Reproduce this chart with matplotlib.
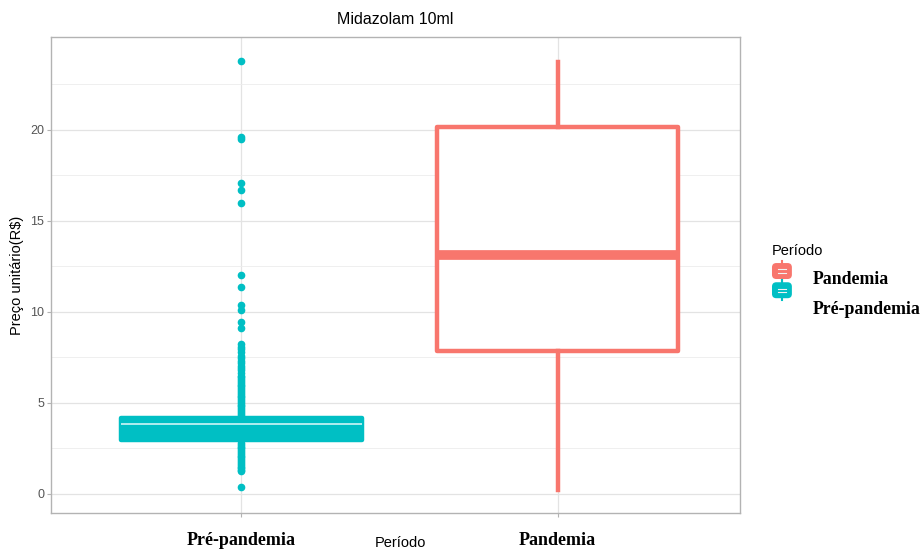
import matplotlib
matplotlib.use("Agg")
import matplotlib.pyplot as plt
from matplotlib.legend_handler import HandlerBase
from matplotlib.patches import FancyBboxPatch
from matplotlib.lines import Line2D

SANS = "Liberation Sans"
SERIF = "Liberation Serif"

categories = ["Pré-pandemia", "Pandemia"]
colors = ["#00BFC4", "#F8766D"]

# box stats
q1 = [2.95, 7.85]
medians = [3.85, 13.1]
q3 = [4.15, 20.15]
whis_lo = [2.0, 0.2]
whis_hi = [5.6, 23.7]

pre_outliers = [23.75, 19.6, 19.5, 17.05, 16.7, 16.0, 12.0, 11.35, 10.4, 10.1,
                9.45, 9.1, 8.25, 8.05, 7.95, 7.8, 7.6, 7.45, 7.3, 7.2, 7.05,
                6.9, 6.8, 6.65, 6.5, 6.4, 6.3, 6.2, 6.1, 6.0, 5.9, 5.8, 5.7,
                5.6, 5.5, 5.4, 5.3, 5.2, 5.1, 5.0, 4.9, 4.8, 4.7, 4.6, 4.5,
                4.4, 4.3, 2.8, 2.7, 2.6, 2.5, 2.4, 2.3, 2.2, 2.1, 2.0, 1.9,
                1.8, 1.7, 1.6, 1.5, 1.4, 1.3, 1.25, 0.4]
pan_outliers = []

yticks = [0, 5, 10, 15, 20]


class BoxKey(HandlerBase):
    # legend key shaped like a small filled boxplot; dy moves it (points)
    def __init__(self, color, dy=0.0):
        super().__init__()
        self.color = color
        self.dy = dy

    def create_artists(self, legend, orig, xd, yd, w, h, fontsize, trans):
        y0 = yd + self.dy
        cx = xd + w / 2
        box = FancyBboxPatch((xd + 0.8, y0 + 1.0), w - 1.6, h - 2.0,
                             boxstyle="round,pad=0,rounding_size=2.5",
                             fc=self.color, ec=self.color, lw=1.2,
                             transform=trans)
        lines = []
        for f in (0.4, 0.6):
            lines.append(Line2D([xd + 4.5, xd + w - 4.5],
                                [y0 + h * f, y0 + h * f],
                                color="#f2f2f2", lw=0.8, transform=trans))
        wh = Line2D([cx, cx], [y0 - 1, y0 + h + 1], color=self.color,
                    lw=1.5, transform=trans)
        return [wh, box] + lines


fig = plt.figure(figsize=(9.22, 5.51), dpi=100)
ax = fig.add_axes([0.0553, 0.069, 0.747, 0.864])

stats = []
for i, name in enumerate(categories):
    stats.append({
        "label": name,
        "q1": q1[i], "med": medians[i], "q3": q3[i],
        "whislo": whis_lo[i], "whishi": whis_hi[i],
        "fliers": pre_outliers if i == 0 else pan_outliers,
    })

# pre-pandemia box is drawn solid, pandemia hollow
pos = [1, 2]
for i in range(2):
    c = colors[i]
    filled = i == 0
    ax.bxp([stats[i]], positions=[pos[i]], widths=0.76, patch_artist=True,
           showcaps=False, manage_ticks=False,
           boxprops=dict(facecolor=c if filled else "white", edgecolor=c,
                         linewidth=3.2, joinstyle="round"),
           medianprops=dict(color="#bff0f2" if filled else c,
                            linewidth=1.3 if filled else 7.0,
                            solid_capstyle="butt"),
           whiskerprops=dict(color=c, linewidth=3.2),
           flierprops=dict(marker="o", markerfacecolor=c, markeredgecolor=c,
                           markersize=4.5, linestyle="none"),
           zorder=3)

ax.set_xlim(0.398, 2.576)
ax.set_ylim(-1.05, 25.1)
ax.set_xticks(pos)
ax.set_xticklabels(categories, fontfamily=SERIF, fontweight="bold",
                   fontsize=13, color="black")
ax.set_yticks(yticks)
ax.set_yticks([2.5, 7.5, 12.5, 17.5, 22.5], minor=True)
ax.tick_params(axis="y", which="major", labelsize=9, labelcolor="#555555",
               color="#b3b3b3", length=3, pad=2)
ax.tick_params(axis="y", which="minor", length=0)
ax.tick_params(axis="x", length=3, color="#b3b3b3", pad=11)
for lab in ax.get_yticklabels():
    lab.set_fontfamily(SANS)

ax.grid(True, which="major", color="#e3e3e3", linewidth=0.9, zorder=0)
ax.grid(True, which="minor", axis="y", color="#ececec", linewidth=0.6, zorder=0)
ax.set_axisbelow(True)
for sp in ax.spines.values():
    sp.set_color("#b3b3b3")
    sp.set_linewidth(1.0)

ax.set_title("Midazolam 10ml", fontfamily=SANS, fontsize=11.5, pad=9)
ax.set_ylabel("Preço unitário(R$)", fontfamily=SANS, fontsize=10.5, labelpad=4)
fig.text(0.434, 0.002, "Período", fontfamily=SANS, fontsize=10.5,
         ha="center", va="bottom")

h1 = Line2D([], [])
h2 = Line2D([], [])
leg = fig.legend([h1, h2], ["Pandemia", "Pré-pandemia"],
                 handler_map={h1: BoxKey(colors[1], dy=1.3),
                              h2: BoxKey(colors[0], dy=9.3)},
                 title="Período", loc="upper left",
                 bbox_to_anchor=(0.837, 0.558), frameon=False,
                 prop=dict(family=SERIF, weight="bold", size=12.8),
                 handlelength=1.15, handleheight=1.1, handletextpad=1.15,
                 labelspacing=0.66, borderaxespad=0, borderpad=0)
leg.get_title().set_fontfamily(SANS)
leg.get_title().set_fontsize(10.5)
leg._legend_box.align = "left"

fig.savefig("out.png", dpi=100)
